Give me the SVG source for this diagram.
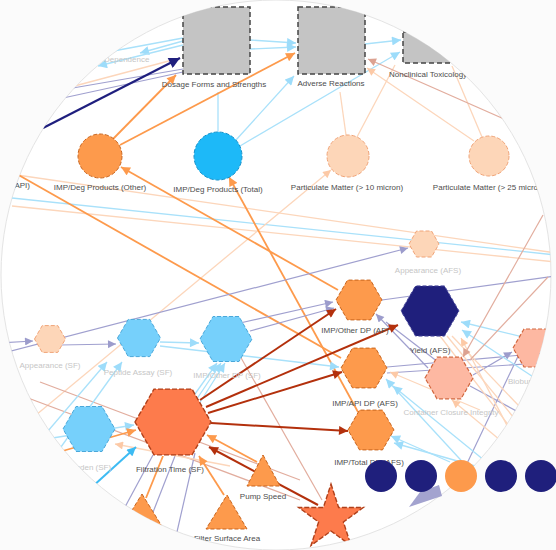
<svg xmlns="http://www.w3.org/2000/svg" width="556" height="550" viewBox="0 0 556 550">
<style>
.lbl{font-family:"Liberation Sans",Arial,sans-serif;font-size:8px;fill:#4d4d4d;text-anchor:middle}
.fade{fill:#c6c6c6}
.e{fill:none}
.lb{stroke:#a9e1fa;stroke-width:1.3}
.bb{stroke:#3dbbf3;stroke-width:2}
.or{stroke:#fd9a4c;stroke-width:1.8}
.rd{stroke:#b3300c;stroke-width:2}
.pc{stroke:#fcd6bb;stroke-width:1.3}
.lv{stroke:#a0a0cf;stroke-width:1.2}
.sl{stroke:#e2ad9e;stroke-width:1.2}
.nv{stroke:#1f1f7e;stroke-width:2.2}
.sq{fill:#c4c4c4;stroke:#444;stroke-width:1.5;stroke-dasharray:5 3}
.n-or{fill:#fd9a4c;stroke:#c8651e;stroke-width:1;stroke-dasharray:4 2}
.n-bb{fill:#1db9f8;stroke:#1590c9;stroke-width:1;stroke-dasharray:4 2}
.n-pc{fill:#fdd6b8;stroke:#f0a478;stroke-width:1;stroke-dasharray:4 2}
.n-lb{fill:#76d0fb;stroke:#4aa8da;stroke-width:1;stroke-dasharray:4 2}
.n-sl{fill:#fdb8a2;stroke:#d26840;stroke-width:1.2;stroke-dasharray:4 2}
.n-rd{fill:#fd7b4c;stroke:#b0401a;stroke-width:1.4;stroke-dasharray:5 2}
.n-nv{fill:#1f1f7c;stroke:#4a4a9c;stroke-width:1;stroke-dasharray:4 2}
</style>
<defs>
<clipPath id="lens"><circle cx="276" cy="275" r="275"/></clipPath>
<marker id="m-nv" viewBox="0 0 10 10" refX="10" refY="5" markerWidth="13" markerHeight="11" markerUnits="userSpaceOnUse" orient="auto"><path d="M0,0L10,5L0,10z" fill="#1f1f7e"/></marker>
<marker id="m-or" viewBox="0 0 10 10" refX="10" refY="5" markerWidth="10" markerHeight="9" markerUnits="userSpaceOnUse" orient="auto"><path d="M0,0L10,5L0,10z" fill="#fd9a4c"/></marker>
<marker id="m-rd" viewBox="0 0 10 10" refX="10" refY="5" markerWidth="10" markerHeight="9" markerUnits="userSpaceOnUse" orient="auto"><path d="M0,0L10,5L0,10z" fill="#b3300c"/></marker>
<marker id="m-lb" viewBox="0 0 10 10" refX="10" refY="5" markerWidth="10" markerHeight="9" markerUnits="userSpaceOnUse" orient="auto"><path d="M0,0L10,5L0,10z" fill="#9ddcfa"/></marker>
<marker id="m-bb" viewBox="0 0 10 10" refX="10" refY="5" markerWidth="10" markerHeight="9" markerUnits="userSpaceOnUse" orient="auto"><path d="M0,0L10,5L0,10z" fill="#3dbbf3"/></marker>
<marker id="m-pc" viewBox="0 0 10 10" refX="10" refY="5" markerWidth="9" markerHeight="8" markerUnits="userSpaceOnUse" orient="auto"><path d="M0,0L10,5L0,10z" fill="#fcc9a6"/></marker>
<marker id="m-lv" viewBox="0 0 10 10" refX="10" refY="5" markerWidth="9" markerHeight="8" markerUnits="userSpaceOnUse" orient="auto"><path d="M0,0L10,5L0,10z" fill="#9c9ccc"/></marker>
<marker id="m-sl" viewBox="0 0 10 10" refX="10" refY="5" markerWidth="9" markerHeight="8" markerUnits="userSpaceOnUse" orient="auto"><path d="M0,0L10,5L0,10z" fill="#dca291"/></marker>
</defs>
<rect width="556" height="550" fill="#fbfbfb"/>
<circle cx="276" cy="275" r="275" fill="#ffffff" stroke="#e4e4e4" stroke-width="1"/>
<g clip-path="url(#lens)">
<g id="connectors" class="e">
<line class="e lb" x1="12" y1="198" x2="556" y2="255"/>
<line class="e pc" x1="12" y1="206" x2="556" y2="262"/>
<line class="e pc" x1="17" y1="175" x2="556" y2="253"/>
<line class="e pc" x1="30" y1="420" x2="331" y2="170" marker-end="url(#m-pc)"/>
<line class="e sl" x1="20" y1="395" x2="300" y2="500"/>
<line class="e sl" x1="40" y1="382" x2="300" y2="480"/>
<line class="e sl" x1="240" y1="356" x2="322" y2="500"/>
<line class="e lb" x1="183" y1="38" x2="108" y2="52"/>
<line class="e lb" x1="183" y1="41" x2="140" y2="53" marker-end="url(#m-lb)"/>
<line class="e lb" x1="183" y1="45" x2="98" y2="66" marker-end="url(#m-lb)"/>
<line class="e pc" x1="67" y1="88" x2="180" y2="58"/>
<line class="e lv" x1="67" y1="89" x2="183" y2="69"/>
<line class="e lv" x1="63" y1="98" x2="183" y2="72"/>
<line class="e nv" x1="43" y1="128" x2="180" y2="58" marker-end="url(#m-nv)"/>
<line class="e lb" x1="250" y1="40" x2="296" y2="43" marker-end="url(#m-lb)"/>
<line class="e lb" x1="250" y1="49" x2="296" y2="47" marker-end="url(#m-lb)"/>
<line class="e lb" x1="365" y1="44" x2="401" y2="40" marker-end="url(#m-lb)"/>
<line class="e lb" x1="218" y1="132" x2="218" y2="92"/>
<line class="e lb" x1="236" y1="140" x2="294" y2="76" marker-end="url(#m-lb)"/>
<line class="e lb" x1="240" y1="146" x2="400" y2="52" marker-end="url(#m-lb)"/>
<line class="e or" x1="113" y1="139" x2="176" y2="75" marker-end="url(#m-or)"/>
<line class="e or" x1="120" y1="145" x2="295" y2="53" marker-end="url(#m-or)"/>
<line class="e pc" x1="346" y1="135" x2="340" y2="92"/>
<line class="e pc" x1="357" y1="137" x2="395" y2="65"/>
<line class="e pc" x1="482" y1="137" x2="452" y2="66"/>
<line class="e pc" x1="474" y1="141" x2="367" y2="68" marker-end="url(#m-pc)"/>
<line class="e sl" x1="556" y1="142" x2="368" y2="59" marker-end="url(#m-sl)"/>
<line class="e or" x1="341" y1="358" x2="15" y2="173"/>
<line class="e or" x1="338" y1="290" x2="121" y2="167" marker-end="url(#m-or)"/>
<line class="e or" x1="358" y1="412" x2="229" y2="177" marker-end="url(#m-or)"/>
<line class="e lv" x1="0" y1="354" x2="408" y2="248" marker-end="url(#m-lv)"/>
<line class="e lv" x1="0" y1="343" x2="33" y2="341" marker-end="url(#m-lv)"/>
<line class="e lv" x1="60" y1="345" x2="116" y2="344" marker-end="url(#m-lv)"/>
<line class="e lv" x1="240" y1="323" x2="333" y2="302" marker-end="url(#m-lv)"/>
<line class="e lv" x1="250" y1="331" x2="334" y2="308" marker-end="url(#m-lv)"/>
<line class="e lv" x1="382" y1="300" x2="556" y2="276"/>
<line class="e lv" x1="428" y1="368" x2="376" y2="314" marker-end="url(#m-lv)"/>
<line class="e lv" x1="438" y1="362" x2="386" y2="322"/>
<line class="e lv" x1="473" y1="375" x2="512" y2="352" marker-end="url(#m-lv)"/>
<line class="e lv" x1="470" y1="386" x2="522" y2="414"/>
<line class="e lv" x1="522" y1="348" x2="462" y2="474"/>
<line class="e lv" x1="387" y1="367" x2="556" y2="352"/>
<line class="e lv" x1="387" y1="373" x2="556" y2="362"/>
<line class="e lv" x1="153" y1="455" x2="118" y2="520"/>
<line class="e lv" x1="175" y1="456" x2="148" y2="525"/>
<line class="e lv" x1="195" y1="453" x2="174" y2="545"/>
<line class="e lb" x1="160" y1="342" x2="199" y2="343" marker-end="url(#m-lb)"/>
<line class="e lb" x1="160" y1="346" x2="339" y2="367" marker-end="url(#m-lb)"/>
<line class="e lb" x1="30" y1="452" x2="107" y2="362" marker-end="url(#m-lb)"/>
<line class="e lb" x1="48" y1="465" x2="122" y2="362" marker-end="url(#m-lb)"/>
<line class="e lb" x1="180" y1="415" x2="217" y2="363" marker-end="url(#m-lb)"/>
<line class="e lb" x1="186" y1="415" x2="221" y2="363" marker-end="url(#m-lb)"/>
<line class="e lb" x1="192" y1="415" x2="225" y2="363" marker-end="url(#m-lb)"/>
<line class="e lb" x1="40" y1="440" x2="134" y2="425" marker-end="url(#m-lb)"/>
<line class="e or" x1="45" y1="456" x2="136" y2="430" marker-end="url(#m-or)"/>
<line class="e pc" x1="230" y1="466" x2="115" y2="444" marker-end="url(#m-pc)"/>
<line class="e bb" x1="92" y1="487" x2="136" y2="447" marker-end="url(#m-bb)"/>
<line class="e lb" x1="556" y1="345" x2="461" y2="322" marker-end="url(#m-lb)"/>
<line class="e lb" x1="556" y1="392" x2="462" y2="330" marker-end="url(#m-lb)"/>
<line class="e lb" x1="470" y1="470" x2="386" y2="379" marker-end="url(#m-lb)"/>
<line class="e lb" x1="490" y1="465" x2="393" y2="386" marker-end="url(#m-lb)"/>
<line class="e lb" x1="450" y1="462" x2="391" y2="436" marker-end="url(#m-lb)"/>
<line class="e lb" x1="475" y1="466" x2="394" y2="443" marker-end="url(#m-lb)"/>
<line class="e pc" x1="500" y1="440" x2="452" y2="400" marker-end="url(#m-pc)"/>
<line class="e pc" x1="520" y1="450" x2="461" y2="338" marker-end="url(#m-pc)"/>
<line class="e pc" x1="440" y1="336" x2="520" y2="440"/>
<line class="e pc" x1="447" y1="336" x2="532" y2="440"/>
<line class="e pc" x1="452" y1="336" x2="542" y2="430"/>
<line class="e pc" x1="480" y1="410" x2="390" y2="372" marker-end="url(#m-pc)"/>
<line class="e sl" x1="543" y1="215" x2="463" y2="357" marker-end="url(#m-sl)"/>
<line class="e sl" x1="548" y1="277" x2="470" y2="360"/>
<line class="e rd" x1="200" y1="400" x2="336" y2="309" marker-end="url(#m-rd)"/>
<line class="e rd" x1="206" y1="407" x2="398" y2="325" marker-end="url(#m-rd)"/>
<line class="e rd" x1="208" y1="413" x2="342" y2="372" marker-end="url(#m-rd)"/>
<line class="e rd" x1="211" y1="423" x2="348" y2="431" marker-end="url(#m-rd)"/>
<line class="e rd" x1="318" y1="505" x2="209" y2="447" marker-end="url(#m-rd)"/>
<line class="e or" x1="257" y1="462" x2="207" y2="435" marker-end="url(#m-or)"/>
<line class="e or" x1="224" y1="495" x2="199" y2="456" marker-end="url(#m-or)"/>
<line class="e or" x1="146" y1="498" x2="163" y2="456"/>
</g>

<g id="n-dosage"><rect class="sq" x="183" y="7" width="67" height="67"/><text class="lbl" x="214" y="87">Dosage Forms and Strengths</text></g>
<g id="n-adverse"><rect class="sq" x="298" y="7" width="67" height="67"/><text class="lbl" x="331" y="86">Adverse Reactions</text></g>
<g id="n-nonclin"><rect class="sq" x="403" y="32" width="60" height="31"/><text class="lbl" x="389" y="77" style="text-anchor:start">Nonclinical Toxicology</text></g>
<g id="n-dependence"><text class="lbl fade" x="104" y="62" style="text-anchor:start">Dependence</text></g>
<g id="n-degapi"><text class="lbl" x="30" y="188" style="text-anchor:end">IMP/Deg Products (API)</text></g>
<g id="n-degother"><circle class="n-or" cx="100" cy="156" r="22"/><text class="lbl" x="100" y="190">IMP/Deg Products (Other)</text></g>
<g id="n-degtotal"><circle class="n-bb" cx="218" cy="156" r="24"/><text class="lbl" x="218" y="192">IMP/Deg Products (Total)</text></g>
<g id="n-pm10"><circle class="n-pc" cx="348" cy="156" r="21"/><text class="lbl" x="347" y="190">Particulate Matter (&gt; 10 micron)</text></g>
<g id="n-pm25"><circle class="n-pc" cx="489" cy="156" r="20"/><text class="lbl" x="489" y="190">Particulate Matter (&gt; 25 micron)</text></g>
<g id="n-appafs"><polygon class="n-pc" points="409,244 416.5,231 431.5,231 439,244 431.5,257 416.5,257"/><text class="lbl fade" x="428" y="273">Appearance (AFS)</text></g>
<g id="n-otheraf"><polygon class="n-or" points="336,300 347.5,280.1 370.5,280.1 382,300 370.5,319.9 347.5,319.9"/><text class="lbl" x="355" y="333">IMP/Other DP (AF)</text></g>
<g id="n-yield"><polygon class="n-nv" points="401,311 415.5,285.9 444.5,285.9 459,311 444.5,336.1 415.5,336.1"/><text class="lbl" x="430" y="353">Yield (AFS)</text></g>
<g id="n-apiafs"><polygon class="n-or" points="341,368 352.5,348.1 375.5,348.1 387,368 375.5,387.9 352.5,387.9"/><text class="lbl" x="365" y="406">IMP/API DP (AFS)</text></g>
<g id="n-totalafs"><polygon class="n-or" points="348,430 359.5,410.1 382.5,410.1 394,430 382.5,449.9 359.5,449.9"/><text class="lbl" x="369" y="465">IMP/Total DP (AFS)</text></g>
<g id="n-cci"><polygon class="n-sl" points="425,378 437,357.2 461,357.2 473,378 461,398.8 437,398.8"/><text class="lbl fade" x="451" y="415">Container Closure Integrity</text></g>
<g id="n-bioafs"><polygon class="n-sl" points="513,348 524,329 546,329 557,348 546,367 524,367"/><text class="lbl fade" x="508" y="384" style="text-anchor:start">Bioburden (AFS)</text></g>
<g id="n-appsf"><polygon class="n-pc" points="34.5,339 42.25,325.6 57.75,325.6 65.5,339 57.75,352.4 42.25,352.4"/><text class="lbl fade" x="50" y="368">Appearance (SF)</text></g>
<g id="n-pepsf"><polygon class="n-lb" points="117.5,338 128.25,319.4 149.75,319.4 160.5,338 149.75,356.6 128.25,356.6"/><text class="lbl fade" x="138" y="375">Peptide Assay (SF)</text></g>
<g id="n-othersf"><polygon class="n-lb" points="200,339 213,316.5 239,316.5 252,339 239,361.5 213,361.5"/><text class="lbl fade" x="227" y="378">IMP/Other DP (SF)</text></g>
<g id="n-biosf"><polygon class="n-lb" points="63,429 76,406.5 102,406.5 115,429 102,451.5 76,451.5"/><text class="lbl fade" x="84" y="470">Bioburden (SF)</text></g>
<g id="n-filt"><polygon class="n-rd" points="135,422 154,389.1 192,389.1 211,422 192,454.9 154,454.9"/><text class="lbl" x="170" y="472">Filtration Time (SF)</text></g>
<g id="n-pump"><polygon class="n-or" points="263,455 280,486 247,486"/><text class="lbl" x="263" y="499">Pump Speed</text></g>
<g id="n-fsa"><polygon class="n-or" points="227,495 247,529 206,529"/><text class="lbl" x="227" y="541">Filter Surface Area</text></g>
<g id="n-tri3"><polygon class="n-or" points="142,494 163,528 121,528"/></g>
<g id="n-star"><polygon class="n-rd" points="331,484 338.6,507.5 363.3,507.5 343.4,522 351,545.5 331,531 311,545.5 318.6,522 298.7,507.5 323.4,507.5"/></g>
</g>
<g id="legend">
<polygon points="409,507 420,492 439,485 442,496" fill="#a3a3cf"/>
<circle cx="381" cy="476" r="16" fill="#1f1f7c"/>
<circle cx="421" cy="476" r="16" fill="#1f1f7c"/>
<circle cx="461" cy="476" r="16" fill="#fd9a4c"/>
<circle cx="501" cy="476" r="16" fill="#1f1f7c"/>
<circle cx="541" cy="476" r="16" fill="#1f1f7c"/>
</g>
</svg>
